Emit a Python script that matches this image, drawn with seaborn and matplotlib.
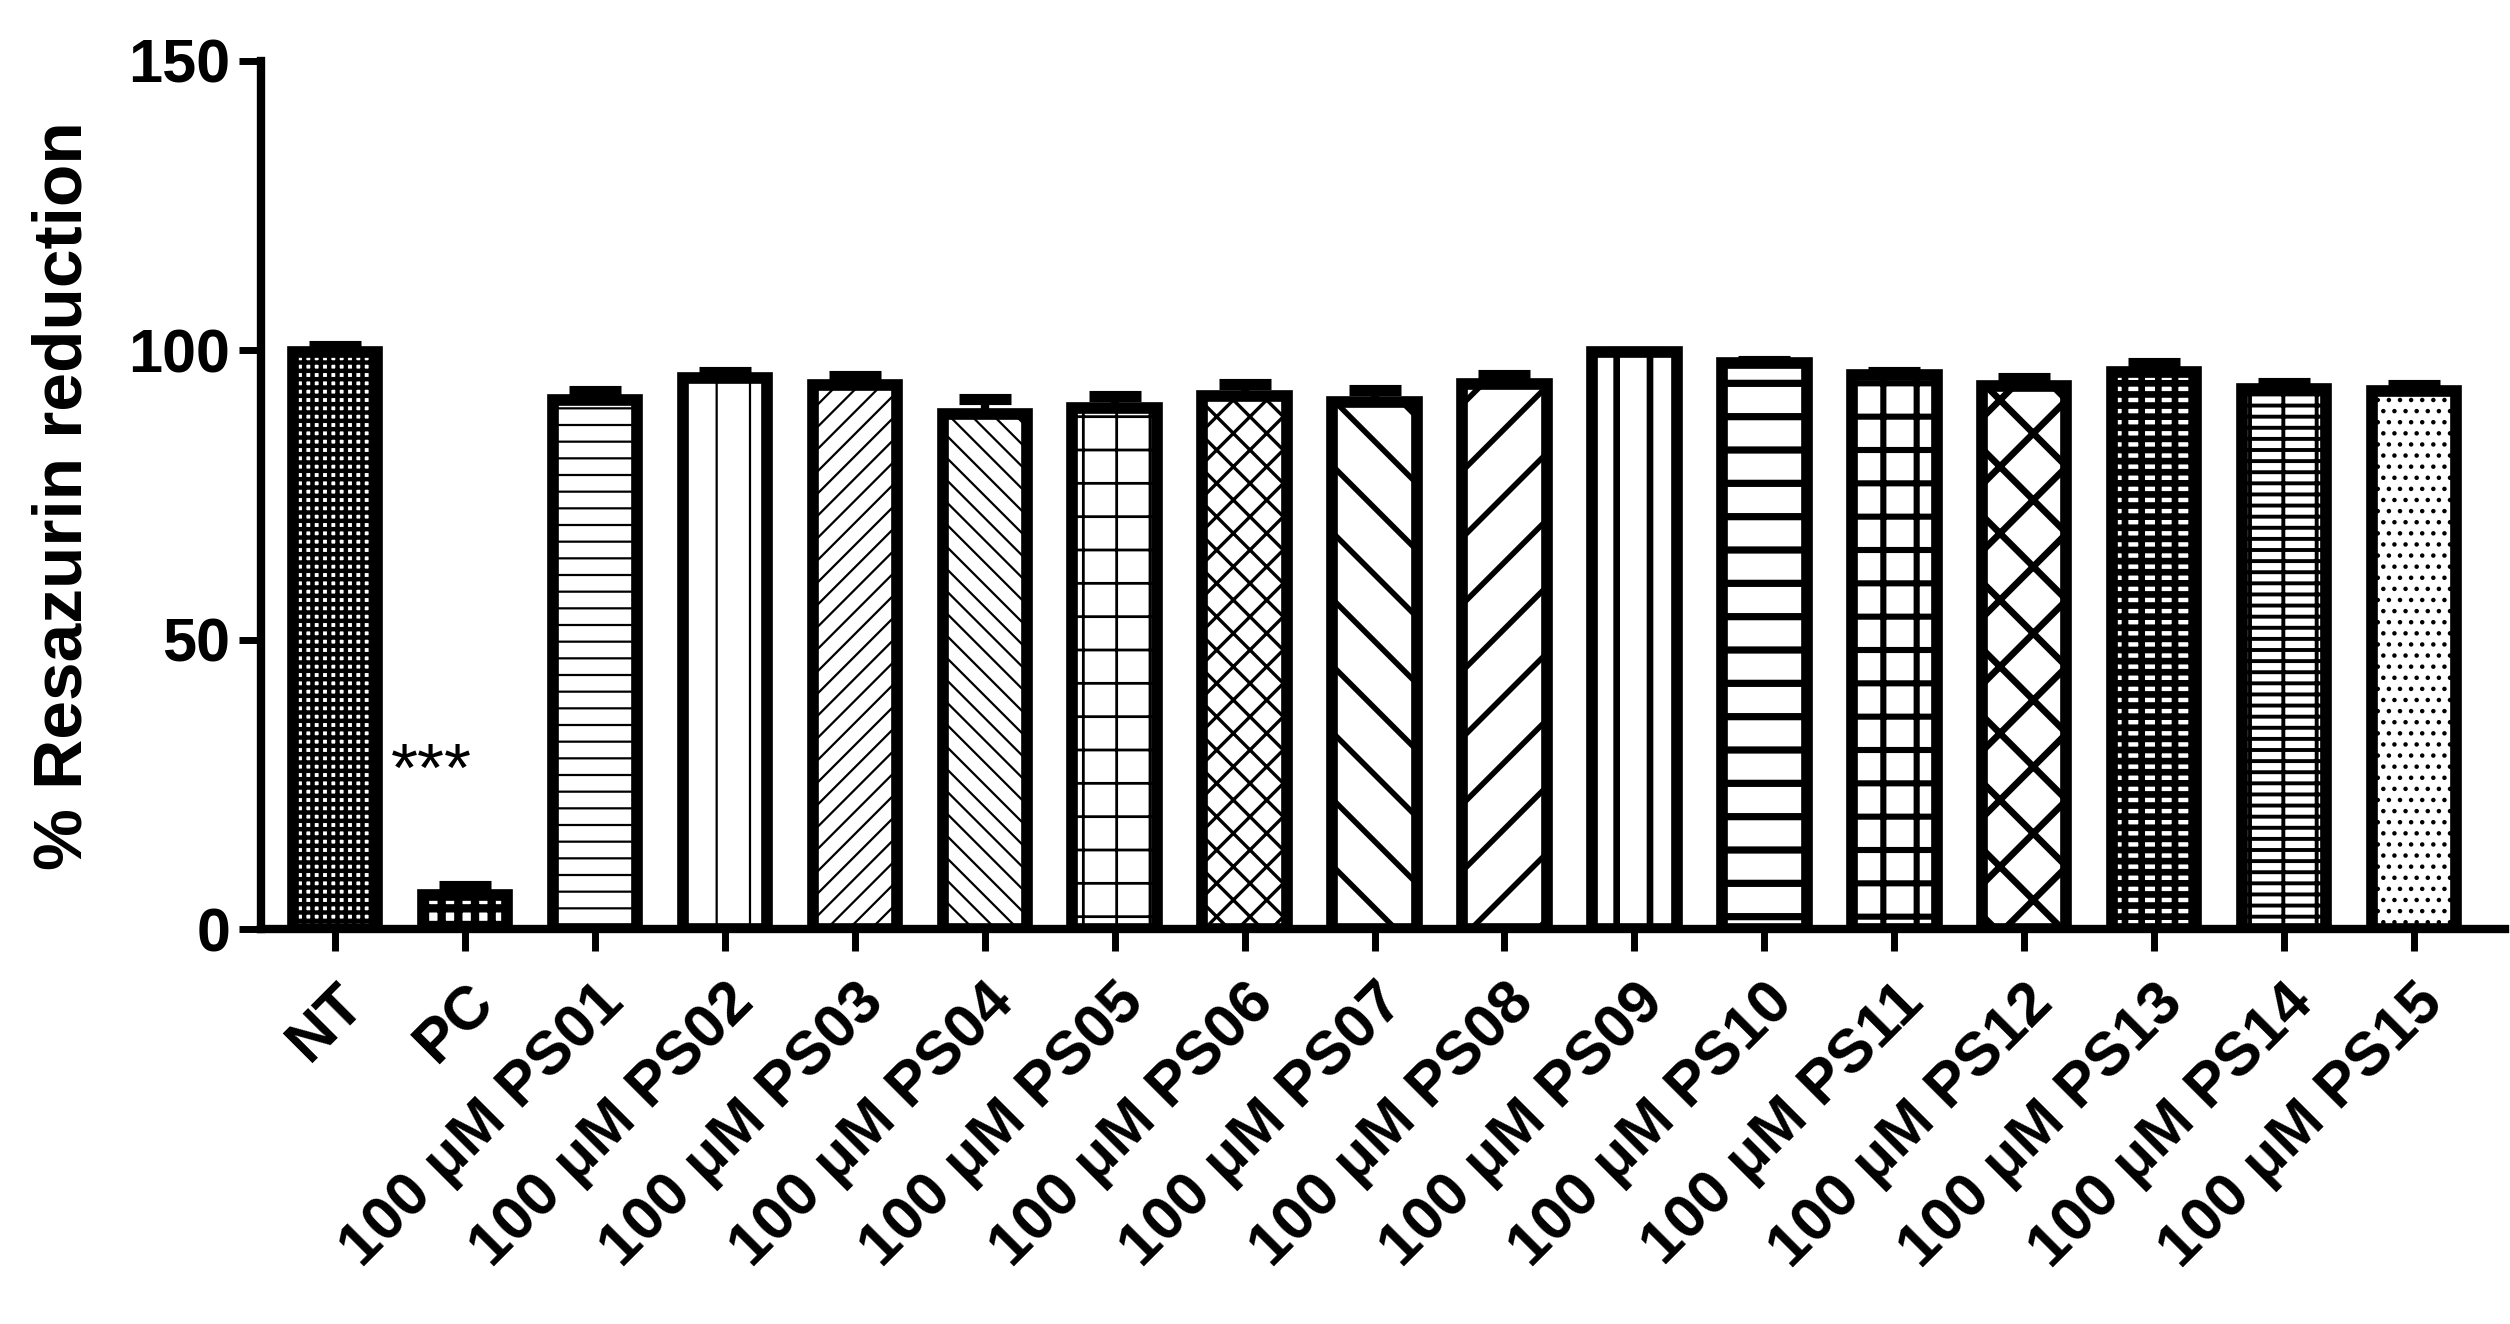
import numpy as np
import pandas as pd
import matplotlib
matplotlib.use("Agg")
import matplotlib.pyplot as plt
import seaborn as sns

# ── Data ───────────────────────────────────────────────────
groups = ["NT", "PC"] + [f"100 \u03bcM PS{i:02d}" for i in range(1, 16)]
means = [99.8, 6.0, 91.5, 95.3, 94.1, 89.1, 90.1, 92.2, 91.1, 94.2,
         99.8, 97.8, 95.7, 93.8, 96.3, 93.3, 93.0]
errs = [1.0, 1.5, 1.5, 1.0, 1.5, 2.5, 2.0, 2.0, 2.0, 1.5,
        0.0, 0.3, 0.5, 1.5, 1.5, 1.0, 1.0]
y_ticks = [0, 50, 100, 150]

# ── Bar fill styles (Prism-like patterns) ──────────────────
hatches = ["++++", "++", "--", "|", "///", "\\\\\\", "+", "xx",
           "\\", "/", "|", "-", "+", "x", "---||", "---|", "..."]
hatch_lw = [1.6, 3.0, 0.8, 0.8, 0.8, 0.8, 1.0, 1.2,
            2.0, 2.0, 2.4, 2.6, 2.2, 2.4, 2.4, 1.4, 0.8]

df = pd.DataFrame({"group": groups, "value": means})

# ── Style ──────────────────────────────────────────────────
sns.set_style("ticks")
plt.rcParams["font.family"] = ["Liberation Sans", "DejaVu Sans"]
plt.rcParams["text.color"] = "black"
plt.rcParams["axes.labelcolor"] = "black"
plt.rcParams["xtick.color"] = "black"
plt.rcParams["ytick.color"] = "black"
plt.rcParams["axes.edgecolor"] = "black"
plt.rcParams["hatch.linewidth"] = 1.2

fig = plt.figure(figsize=(12.55, 6.62), dpi=200)
ax = fig.add_axes([0.104, 0.298, 0.894, 0.656])

sns.barplot(data=df, x="group", y="value", color="white", width=0.65,
            edgecolor="black", linewidth=4.2, errorbar=None, ax=ax, zorder=2)

for patch, h, lw in zip(ax.patches, hatches, hatch_lw):
    patch.set_hatch(h)
    if hasattr(patch, "set_hatch_linewidth"):
        patch.set_hatch_linewidth(lw)

# upper error bars only (Prism style)
ax.errorbar(np.arange(len(groups)), means,
            yerr=[np.zeros(len(errs)), errs], fmt="none",
            ecolor="black", elinewidth=3, capsize=9.5, capthick=4, zorder=1)

ax.text(0.74, 27, "***", fontsize=25, ha="center", va="center")

# ── Axes ───────────────────────────────────────────────────
ax.set_ylim(0, 150)
ax.set_xlim(-0.57, len(groups) - 0.3)
ax.set_yticks(y_ticks)
ax.set_ylabel("% Resazurin reduction", fontsize=25, fontweight="bold",
              labelpad=12)
ax.set_xlabel("")
sns.despine(ax=ax)
for s in ["left", "bottom"]:
    ax.spines[s].set_linewidth(3)
ax.tick_params(axis="both", length=8, width=2.5)
ax.tick_params(axis="y", labelsize=22, pad=3)
ax.tick_params(axis="x", labelsize=22, pad=8)
for lab in ax.get_yticklabels():
    lab.set_fontweight("bold")
ax.set_xticks(range(len(groups)))
ax.set_xticklabels(groups, rotation=45, ha="right", rotation_mode="anchor",
                   fontweight="bold")

plt.savefig("out.png", dpi=200)
